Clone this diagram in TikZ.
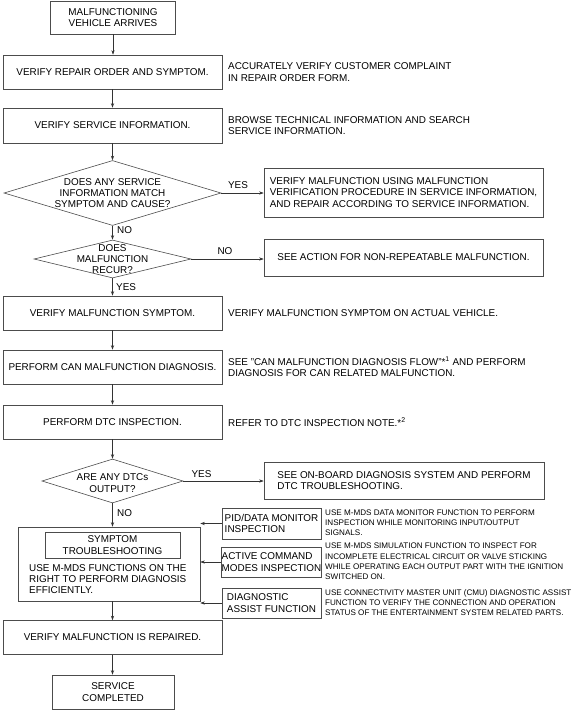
\documentclass[tikz,border=0pt]{standalone}
\usepackage{fontspec}
\setmainfont{Liberation Sans}
\usetikzlibrary{shapes.geometric,arrows.meta,calc}
\begin{document}
\begin{tikzpicture}[x=1pt,y=-1pt,
  every node/.style={font=\fontsize{9.9}{11.3}\selectfont, inner sep=0pt, text=black},
  ln/.style={draw=black!70, line width=0.6pt},
  arr/.style={draw=black!80, line width=0.6pt, -{Stealth[length=4.5pt,width=3.2pt]}},
  box/.style={ln, rectangle, align=center},
  dia/.style={ln, diamond, inner sep=0pt},
  desc/.style={align=left, anchor=west},
  small/.style={align=left, anchor=west, font=\fontsize{8.1}{10.2}\selectfont}
]
\useasboundingbox (0,0) rectangle (577,710);
% left column
\node[box, minimum width=125, minimum height=33] (start) at (113,17.5) {MALFUNCTIONING\\VEHICLE ARRIVES};
\node[box, minimum width=219, minimum height=34] (ro) at (112.5,72) {VERIFY REPAIR ORDER AND SYMPTOM.};
\node[box, minimum width=219, minimum height=35] (si) at (112.5,125.5) {VERIFY SERVICE INFORMATION.};
\node[dia, minimum width=217, minimum height=65] (d1) at (112.5,193) {};
\node[align=center] (d1t) at (112.5,193) {DOES ANY SERVICE\\INFORMATION MATCH\\SYMPTOM AND CAUSE?};
\node[dia, minimum width=157, minimum height=38] (d2) at (112.5,259) {};
\node[align=center] (d2t) at (112.5,259) {DOES\\MALFUNCTION\\RECUR?};
\node[box, minimum width=219, minimum height=34] (vs) at (112.5,313) {VERIFY MALFUNCTION SYMPTOM.};
\node[box, minimum width=219, minimum height=34] (can) at (112.5,367) {PERFORM CAN MALFUNCTION DIAGNOSIS.};
\node[box, minimum width=219, minimum height=34] (dtc) at (112.5,422) {PERFORM DTC INSPECTION.};
\node[dia, minimum width=141, minimum height=44] (d3) at (112.5,481) {};
\node[align=center] (d3t) at (112.5,483) {ARE ANY DTCs\\OUTPUT?};
\node[box, minimum width=182, minimum height=74] (big) at (109,564) {};
\node[box, minimum width=135, minimum height=26] (st) at (112.5,545) {SYMPTOM\\TROUBLESHOOTING};
\node[align=left, anchor=west] (use) at (29,579) {USE M-MDS FUNCTIONS ON THE\\RIGHT TO PERFORM DIAGNOSIS\\EFFICIENTLY.};
\node[box, minimum width=219, minimum height=34] (rep) at (112.5,637.5) {VERIFY MALFUNCTION IS REPAIRED.};
\node[box, minimum width=122, minimum height=34] (end) at (113,692) {SERVICE\\COMPLETED};
% right column
\node[desc] (t1) at (228,72) {ACCURATELY VERIFY CUSTOMER COMPLAINT\\IN REPAIR ORDER FORM.};
\node[desc] (t2) at (228,125.5) {BROWSE TECHNICAL INFORMATION AND SEARCH\\SERVICE INFORMATION.};
\node[box, minimum width=279, minimum height=49, align=left] (yes1) at (403.5,192.5) {VERIFY MALFUNCTION USING MALFUNCTION\\VERIFICATION PROCEDURE IN SERVICE INFORMATION,\\AND REPAIR ACCORDING TO SERVICE INFORMATION.};
\node[box, minimum width=279, minimum height=37] (no2) at (403.5,257.5) {SEE ACTION FOR NON-REPEATABLE MALFUNCTION.};
\node[desc] (t4) at (228,313) {VERIFY MALFUNCTION SYMPTOM ON ACTUAL VEHICLE.};
\node[desc] (t5) at (228,367) {SEE "CAN MALFUNCTION DIAGNOSIS FLOW"*\textsuperscript{1} AND PERFORM\\DIAGNOSIS FOR CAN RELATED MALFUNCTION.};
\node[desc] (t6) at (228,422) {REFER TO DTC INSPECTION NOTE.*\textsuperscript{2}};
\node[box, minimum width=280, minimum height=37, align=left] (yes3) at (404,480.5) {SEE ON-BOARD DIAGNOSIS SYSTEM AND PERFORM\\DTC TROUBLESHOOTING.};
\node[box, minimum width=99, minimum height=31, align=left] (pid) at (271.5,523.5) {PID/DATA MONITOR\\INSPECTION};
\node[box, minimum width=99, minimum height=30, align=left] (act) at (271.5,562) {ACTIVE COMMAND\\MODES INSPECTION};
\node[box, minimum width=99, minimum height=30, align=left] (diag) at (271.5,603) {DIAGNOSTIC\\ASSIST FUNCTION};
\node[small] (pidt) at (325,523) {USE M-MDS DATA MONITOR FUNCTION TO PERFORM\\INSPECTION WHILE MONITORING INPUT/OUTPUT\\SIGNALS.};
\node[small] (actt) at (325,561.5) {USE M-MDS SIMULATION FUNCTION TO INSPECT FOR\\INCOMPLETE ELECTRICAL CIRCUIT OR VALVE STICKING\\WHILE OPERATING EACH OUTPUT PART WITH THE IGNITION\\SWITCHED ON.};
\node[small] (diagt) at (325,602.5) {USE CONNECTIVITY MASTER UNIT (CMU) DIAGNOSTIC ASSIST\\FUNCTION TO VERIFY THE CONNECTION AND OPERATION\\STATUS OF THE ENTERTAINMENT SYSTEM RELATED PARTS.};
% labels
\node (lyes1) at (238,185) {YES};
\node[anchor=west] (lno1) at (117,230) {NO};
\node (lno2) at (225,251.5) {NO};
\node[anchor=west] (lyes2) at (116,287) {YES};
\node (lyes3) at (201.5,474) {YES};
\node[anchor=west] (lno3) at (117,513) {NO};
% connectors
\draw[arr] (start.south) -- (start.south |- ro.north);
\draw[arr] (ro.south) -- (si.north);
\draw[arr] (si.south) -- (d1.north);
\draw[arr] (d1.east) -- (d1.east -| yes1.west);
\draw[arr] (d1.south) -- (d2.north);
\draw[arr] (d2.east) -- (d2.east -| no2.west);
\draw[arr] (d2.south) -- (vs.north);
\draw[arr] (vs.south) -- (can.north);
\draw[arr] (can.south) -- (dtc.north);
\draw[arr] (dtc.south) -- (d3.north);
\draw[arr] (d3.east) -- (d3.east -| yes3.west);
\draw[arr] (d3.south) -- (d3.south |- big.north);
\draw[arr] (pid.west) -- (pid.west -| big.east);
\draw[arr] (act.west) -- (act.west -| big.east);
\draw[arr] (diag.west) -- (diag.west -| big.east);
\draw[arr] (big.south -| rep.north) -- (rep.north);
\draw[arr] (rep.south) -- (rep.south |- end.north);
\end{tikzpicture}
\end{document}
